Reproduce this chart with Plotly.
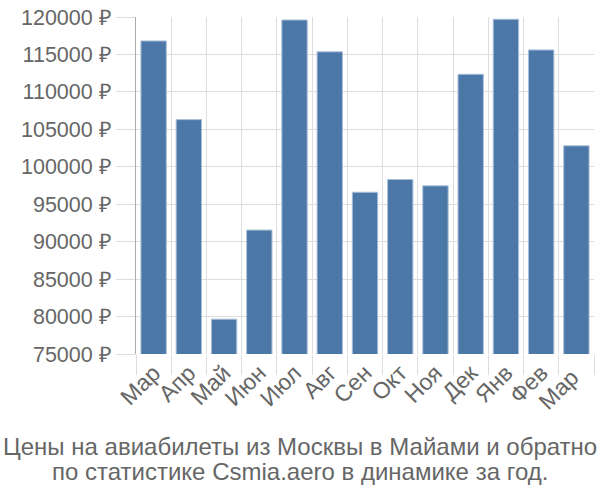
import plotly.graph_objects as go

months = ["Мар", "Апр", "Май", "Июн", "Июл", "Авг", "Сен", "Окт", "Ноя", "Дек", "Янв", "Фев", "Мар "]
prices = [116800, 106300, 79650, 91550, 119600, 115350, 96600, 98300, 97450, 112350, 119700, 115600, 102800]
y_ticks = [75000, 80000, 85000, 90000, 95000, 100000, 105000, 110000, 115000, 120000]
y_labels = [f"{v} ₽" for v in y_ticks]
title_lines = ["Цены на авиабилеты из Москвы в Майами и обратно",
               "по статистике Csmia.aero в динамике за год."]

L, R, T, B, W, H = 136, 6, 14, 146, 600, 500
pw, ph = W - L - R, H - T - B

fig = go.Figure(go.Bar(
    x=months, y=prices,
    marker=dict(color="#4c78a8", line=dict(color="#a9bfd9", width=1)),
    width=0.72,
))

fig.update_layout(
    width=W, height=H,
    margin=dict(l=L, r=R, t=T, b=B),
    plot_bgcolor="white", paper_bgcolor="white",
    font=dict(family="Liberation Sans, Arial, sans-serif", size=20, color="#666666"),
    showlegend=False,
)
fig.update_xaxes(
    type="category", tickson="boundaries", showgrid=True, gridcolor="#dddddd", gridwidth=1,
    ticks="outside", ticklen=20, tickcolor="#dddddd", tickangle=-45,
    tickfont=dict(size=23, color="#666666"), showline=False,
    range=[-0.5, 12.5],
)
fig.update_yaxes(
    range=[75000, 120000], tickvals=y_ticks, ticktext=y_labels,
    showgrid=True, gridcolor="#dddddd", gridwidth=1,
    ticks="outside", ticklen=19, tickcolor="#dddddd",
    showline=True, linecolor="#aaaaaa", linewidth=1,
    tickfont=dict(size=21.5, color="#666666"), zeroline=False,
)
for line, yc in zip(title_lines, [447, 473]):
    fig.add_annotation(
        text=line, xref="paper", yref="paper",
        x=(W / 2 - L) / pw, y=(H - B - yc) / ph, xanchor="center", yanchor="middle",
        showarrow=False, font=dict(size=24, color="#666666"),
    )
fig.write_html("out.html")
